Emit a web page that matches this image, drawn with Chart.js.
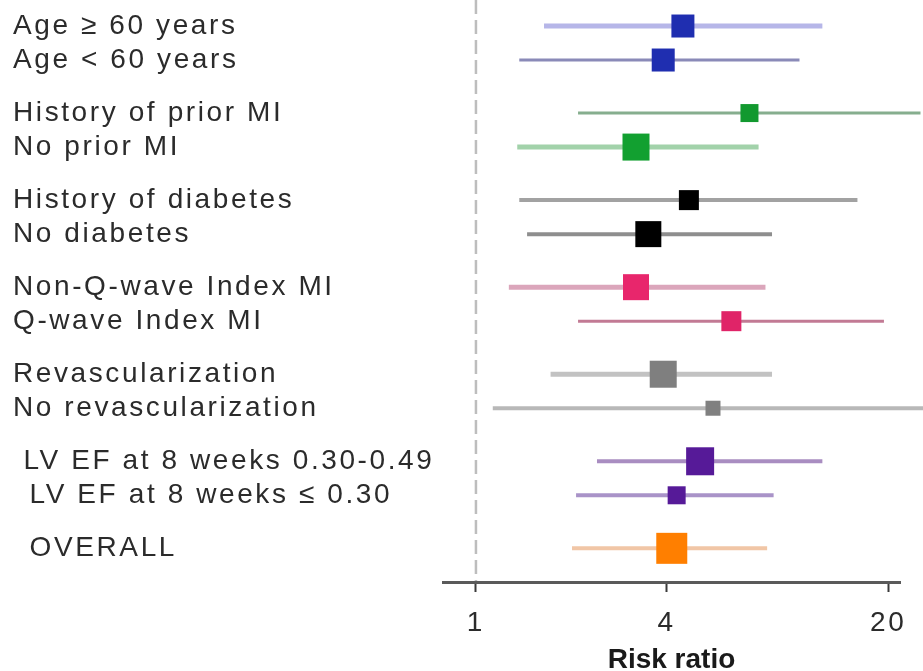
<!DOCTYPE html>
<html>
<head>
<meta charset="utf-8">
<script src="https://cdn.jsdelivr.net/npm/chart.js@4.4.1/dist/chart.umd.min.js"></script>
<style>
  html, body { margin: 0; padding: 0; background: #fff; overflow: hidden; }
</style>
</head>
<body>
<canvas id="forestChart" width="923" height="671"></canvas>
<script>
    // subgroup rows, top to bottom
    const subgroups = [
        'Age ≥ 60 years', 'Age < 60 years',
        'History of prior MI', 'No prior MI',
        'History of diabetes', 'No diabetes',
        'Non-Q-wave Index MI', 'Q-wave Index MI',
        'Revascularization', 'No revascularization',
        'LV EF at 8 weeks 0.30-0.49', 'LV EF at 8 weeks ≤ 0.30',
        'OVERALL'
    ];
    const groupOf = [0, 0, 1, 1, 2, 2, 3, 3, 4, 4, 5, 5, 6];
    const riskRatio = [4.5, 3.9, 7.3, 3.2, 4.7, 3.5, 3.2, 6.4, 3.9, 5.6, 5.1, 4.3, 4.15];
    const lowerCI = [1.64, 1.37, 2.1, 1.35, 1.37, 1.45, 1.27, 2.1, 1.72, 1.13, 2.41, 2.07, 2.01];
    const upperCI = [12.4, 10.5, 25.3, 7.8, 16.0, 8.6, 8.2, 19.4, 8.6, 30, 12.4, 8.7, 8.3];
    const xTicks = [1, 4, 20];

    // styling per row
    const markerColors = ['#1f2eb0', '#1f2eb0', '#12992f', '#12a030', '#000000', '#000000',
        '#e8266c', '#e02468', '#7f7f7f', '#808080', '#561a98', '#561a98', '#ff7f00'];
    const ciColors = ['#b6b6e8', '#8a8ab8', '#86ae8e', '#a2d2aa', '#a2a2a2', '#8e8e8e',
        '#dba6bb', '#c27a94', '#c2c2c2', '#b8b8b8', '#a98dc1', '#a993c8', '#f1c6a6'];
    const ciWidths = [5, 3, 3, 5, 4, 4, 5, 3, 5, 4, 4, 4, 4];
    const markerSize = [23, 23, 18, 27, 20, 26, 26, 20, 27, 15, 28, 18, 31];

    const groupGap = 0.56;
    const rowPos = subgroups.map((_, i) => i + groupOf[i] * groupGap);
    const yMin = -0.765, yMax = 16.35;

    const ciDatasets = subgroups.map((name, i) => ({
        label: name,
        data: [{x: lowerCI[i], y: rowPos[i]}, {x: upperCI[i], y: rowPos[i]}],
        showLine: true,
        borderColor: ciColors[i],
        borderWidth: ciWidths[i],
        pointRadius: 0,
        clip: false,
        order: 1
    }));

    const pointDataset = {
        label: 'Risk ratio',
        data: riskRatio.map((v, i) => ({x: v, y: rowPos[i]})),
        pointStyle: 'rect',
        pointRadius: markerSize.map(s => s / Math.SQRT2),
        pointBackgroundColor: markerColors,
        pointBorderWidth: 0,
        clip: false,
        order: 0
    };

    const refLine = {
        label: 'no effect',
        data: [{x: 1, y: yMin}, {x: 1, y: yMax}],
        showLine: true,
        borderColor: '#bdbdbd',
        borderWidth: 2.5,
        borderDash: [14, 6],
        pointRadius: 0,
        order: 2
    };

    // wider label spacing for the axis labels only
    const labelSpacing = {
        id: 'labelSpacing',
        beforeDraw(chart) { chart.ctx.letterSpacing = '2.6px'; },
        beforeDatasetsDraw(chart) { chart.ctx.letterSpacing = '0px'; }
    };

    Chart.defaults.font.family = "'Liberation Sans', Arial, sans-serif";

    new Chart(document.getElementById('forestChart').getContext('2d'), {
        type: 'scatter',
        data: { datasets: [pointDataset, ...ciDatasets, refLine] },
        plugins: [labelSpacing],
        options: {
            responsive: false,
            animation: false,
            events: [],
            layout: { autoPadding: false, padding: { left: 13, right: 23, top: 0, bottom: 0 } },
            plugins: { legend: { display: false }, tooltip: { enabled: false } },
            scales: {
                x: {
                    type: 'logarithmic',
                    min: 0.787,
                    max: 21.8,
                    afterBuildTicks: (scale) => { scale.ticks = xTicks.map(v => ({value: v})); },
                    afterFit: (scale) => { scale.height = 89; scale.paddingLeft = 0; scale.paddingRight = 0; },
                    ticks: {
                        autoSkip: false,
                        maxRotation: 0,
                        padding: 14,
                        color: '#2b2b2b',
                        font: { size: 28 },
                        callback: (value) => String(value)
                    },
                    grid: {
                        z: 1,
                        drawOnChartArea: false,
                        drawTicks: true,
                        tickLength: 10,
                        tickColor: '#3a3a3a',
                        tickWidth: 2
                    },
                    border: { display: true, z: 1, color: '#5a5a5a', width: 3 },
                    title: {
                        display: true,
                        text: 'Risk ratio',
                        color: '#1a1a1a',
                        font: { size: 28, weight: 'bold' },
                        padding: { top: 0, bottom: -6 }
                    }
                },
                y: {
                    type: 'linear',
                    reverse: true,
                    min: yMin,
                    max: yMax,
                    afterBuildTicks: (scale) => { scale.ticks = rowPos.map(v => ({value: v})); },
                    afterFit: (scale) => { scale.width = 430; scale.paddingTop = 0; scale.paddingBottom = 0; },
                    ticks: {
                        autoSkip: false,
                        crossAlign: 'far',
                        color: '#2b2b2b',
                        font: { size: 28 },
                        callback: (value, index) => (index === 10 ? ' ' : index > 10 ? '\u2002' : '') + subgroups[index]
                    },
                    grid: { display: false },
                    border: { display: false }
                }
            }
        }
    });
</script>
</body>
</html>
